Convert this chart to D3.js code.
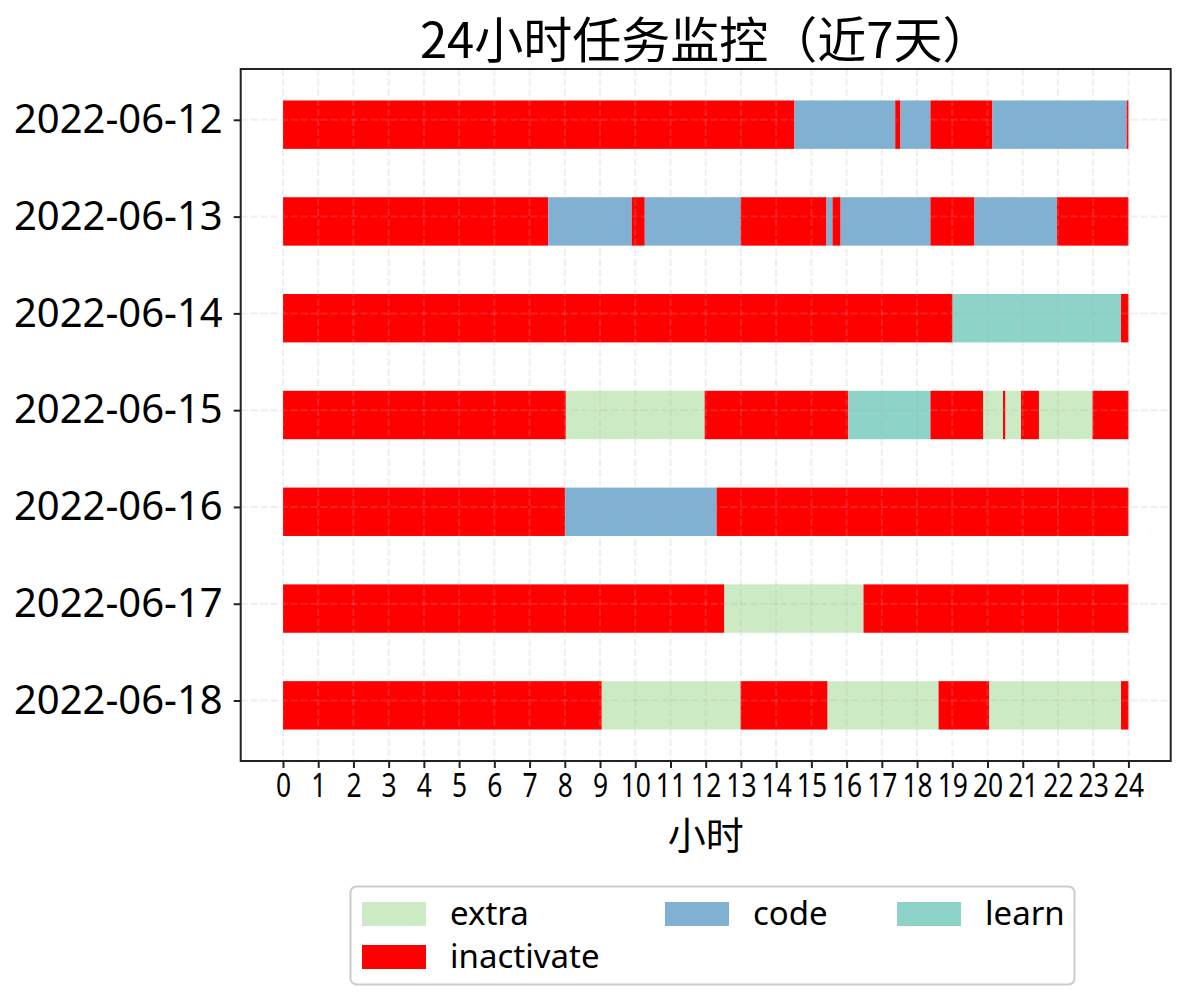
<!DOCTYPE html>
<html><head><meta charset="utf-8">
<script src="https://cdn.jsdelivr.net/npm/d3@7"></script>
<style>body{margin:0;background:#fff}</style>
</head><body>
<svg id="c" width="1186" height="1000"></svg>
<script>
const dates = ["2022-06-12","2022-06-13","2022-06-14","2022-06-15","2022-06-16","2022-06-17","2022-06-18"];
const categories = ["extra","code","learn","inactivate"];
const hourTicks = d3.range(0,25);
// segments per day: [start hour, end hour, category]
const day0612 = [[0,14.52,"inactivate"],[14.52,17.38,"code"],[17.38,17.53,"inactivate"],[17.53,18.38,"code"],[18.38,20.14,"inactivate"],[20.14,23.95,"code"],[23.95,24,"inactivate"]];
const day0613 = [[0,7.53,"inactivate"],[7.53,9.90,"code"],[9.90,10.27,"inactivate"],[10.27,12.99,"code"],[12.99,15.43,"inactivate"],[15.43,15.60,"code"],[15.60,15.83,"inactivate"],[15.83,18.38,"code"],[18.38,19.63,"inactivate"],[19.63,21.97,"code"],[21.97,24,"inactivate"]];
const day0614 = [[0,19.01,"inactivate"],[19.01,23.79,"learn"],[23.79,24,"inactivate"]];
const day0615 = [[0,8.03,"inactivate"],[8.03,11.97,"extra"],[11.97,16.05,"inactivate"],[16.05,18.38,"learn"],[18.38,19.88,"inactivate"],[19.88,20.44,"extra"],[20.44,20.51,"inactivate"],[20.51,20.95,"extra"],[20.95,21.46,"inactivate"],[21.46,22.98,"extra"],[22.98,24,"inactivate"]];
const day0616 = [[0,8.01,"inactivate"],[8.01,12.31,"code"],[12.31,24,"inactivate"]];
const day0617 = [[0,12.53,"inactivate"],[12.53,16.48,"extra"],[16.48,24,"inactivate"]];
const day0618 = [[0,9.05,"inactivate"],[9.05,12.99,"extra"],[12.99,15.46,"inactivate"],[15.46,18.61,"extra"],[18.61,20.05,"inactivate"],[20.05,23.79,"extra"],[23.79,24,"inactivate"]];
const days = [day0612,day0613,day0614,day0615,day0616,day0617,day0618];

const colors = {extra:"#ccebc5", code:"#80b1d3", learn:"#8dd3c7", inactivate:"#ff0000"};

const svg = d3.select("#c");
const L=240.7, R=1170.7, T=69, B=761;
const x = d3.scaleLinear().domain([-1.2,25.2]).range([L,R]);
const y = d3.scaleLinear().domain([-0.525,6.625]).range([T,B]);
const latin = "'Noto Sans', 'Noto Sans CJK SC', sans-serif";
const cjk = "'Noto Sans CJK SC', 'Noto Sans', sans-serif";

// bars
const rows = svg.append("g").selectAll("g").data(days).join("g");
rows.selectAll("rect").data((d,i)=>d.map(s=>({s:s,i:i}))).join("rect")
  .attr("x", d=>x(d.s[0]))
  .attr("width", d=>x(d.s[1])-x(d.s[0]))
  .attr("y", d=>y(d.i-0.2))
  .attr("height", d=>y(d.i+0.3)-y(d.i-0.2))
  .attr("fill", d=>colors[d.s[2]]);

// grid (drawn on top, translucent)
const grid = svg.append("g").attr("stroke","#b0b0b0").attr("stroke-opacity",0.2).attr("stroke-width",2).attr("stroke-dasharray","7,3");
grid.selectAll("line.v").data(hourTicks).join("line").attr("class","v")
  .attr("x1",d=>x(d)).attr("x2",d=>x(d)).attr("y1",T).attr("y2",B);
grid.selectAll("line.h").data(dates.map((d,i)=>i)).join("line").attr("class","h")
  .attr("y1",d=>y(d)).attr("y2",d=>y(d)).attr("x1",L).attr("x2",R);

// axes
const xa = svg.append("g").attr("transform",`translate(0,${B})`)
  .call(d3.axisBottom(x).tickValues(hourTicks).tickFormat(d3.format("d")).tickSize(7).tickPadding(6));
xa.select(".domain").remove();
xa.selectAll("line").attr("stroke","#222").attr("stroke-width",2);
xa.selectAll("text").attr("font-family",latin).attr("font-size",33).attr("fill","#000")
  .attr("transform","scale(0.8,1)");

const ya = svg.append("g").attr("transform",`translate(${L},0)`)
  .call(d3.axisLeft(y).tickValues(dates.map((d,i)=>i)).tickFormat(i=>dates[i]).tickSize(7).tickPadding(11));
ya.select(".domain").remove();
ya.selectAll("line").attr("stroke","#222").attr("stroke-width",2);
ya.selectAll("text").attr("font-family",latin).attr("font-size",40).attr("fill","#000");

// frame
svg.append("rect").attr("x",L).attr("y",T).attr("width",R-L).attr("height",B-T)
  .attr("fill","none").attr("stroke","#222").attr("stroke-width",2);

// title & x label
svg.append("text").attr("x",(L+R)/2).attr("y",58).attr("text-anchor","middle")
  .attr("font-family",cjk).attr("font-size",49).attr("fill","#000").text("24小时任务监控（近7天）");
svg.append("text").attr("x",(L+R)/2).attr("y",849).attr("text-anchor","middle")
  .attr("font-family",cjk).attr("font-size",38).attr("fill","#000").text("小时");

// legend
const lg = svg.append("g");
lg.append("rect").attr("x",350.5).attr("y",886.5).attr("width",724).attr("height",98).attr("rx",6)
  .attr("fill","#fff").attr("stroke","#cccccc").attr("stroke-width",2);
const legendPos = {extra:[362,902], code:[665,902], learn:[897,902], inactivate:[362,945]};
categories.forEach(c=>{
  const p = legendPos[c];
  lg.append("rect").attr("x",p[0]).attr("y",p[1]).attr("width",64).attr("height",24).attr("fill",colors[c]);
  lg.append("text").attr("x",p[0]+88).attr("y",p[1]+23).attr("font-family",latin).attr("font-size",33)
    .attr("fill","#000").text(c);
});
</script>
</body></html>
